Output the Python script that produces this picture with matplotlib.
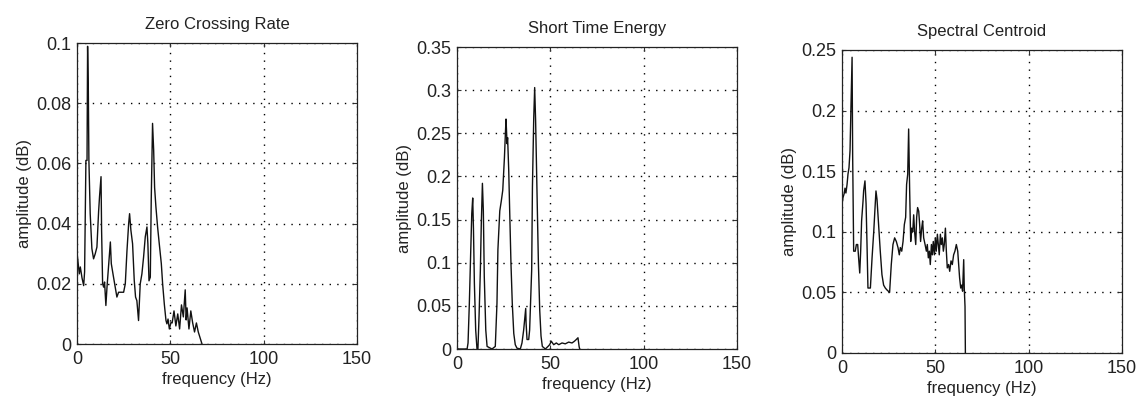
"""Three feature spectra (ZCR, short time energy, spectral centroid)."""

import matplotlib

matplotlib.use("Agg")
import matplotlib.pyplot as plt

plt.rcParams["font.family"] = ["Liberation Sans", "DejaVu Sans"]

# Zero crossing rate spectrum
zcr_freq = [0, 1.25, 1.8, 2.7, 3.6, 4.1, 4.8, 5.4, 5.7, 6.1, 6.4, 7.1, 8.0, 8.9,
            9.8, 10.7, 11.6, 12.1, 12.9, 13.2, 13.75, 14.3, 14.8, 15.5, 16.1,
            17.9, 18.4, 19.3, 20.2, 21.4, 22.3, 23.2, 25.0, 25.9, 26.8, 27.7,
            28.2, 28.9, 29.8, 30.7, 31.4, 32.1, 33.0, 33.9, 34.8, 35.7, 36.6,
            37.5, 38.0, 38.6, 39.3, 39.8, 40.5, 41.1, 41.6, 42.3, 43.2, 44.1,
            45.2, 45.9, 46.8, 47.7, 48.2, 48.8, 49.5, 50.4, 51.0, 52.0, 53.0,
            54.0, 55.0, 56.0, 57.0, 58.0, 58.5, 59.0, 60.0, 61.0, 62.0, 63.0,
            64.0, 65.0, 66.0, 67.0]
zcr_amp = [0.0306, 0.0233, 0.0256, 0.022, 0.0194, 0.024, 0.061, 0.061, 0.0989,
           0.084, 0.061, 0.0433, 0.0317, 0.0283, 0.030, 0.0322, 0.044, 0.049,
           0.0556, 0.0378, 0.020, 0.0189, 0.0206, 0.0128, 0.0189, 0.0339,
           0.0267, 0.0233, 0.020, 0.0156, 0.0172, 0.0172, 0.0172, 0.020, 0.031,
           0.040, 0.0433, 0.0378, 0.0333, 0.0211, 0.0156, 0.0144, 0.0078, 0.020,
           0.0233, 0.0289, 0.0356, 0.0389, 0.0333, 0.021, 0.0222, 0.048, 0.0733,
           0.0644, 0.052, 0.0456, 0.0389, 0.0333, 0.0267, 0.020, 0.0133, 0.0078,
           0.0067, 0.0083, 0.005, 0.0072, 0.007, 0.011, 0.006, 0.010, 0.005,
           0.013, 0.009, 0.018, 0.008, 0.012, 0.005, 0.011, 0.007, 0.004, 0.007,
           0.004, 0.002, 0.0]

# Short time energy spectrum
ste_freq = [0, 5.4, 5.9, 6.6, 7.3, 7.9, 8.4, 8.8, 9.3, 10.0, 10.7, 11.2, 11.8,
            12.5, 13.0, 13.6, 14.1, 14.6, 15.4, 16.1, 18.75, 20.5, 21.4, 21.9,
            22.9, 23.75, 24.5, 25.4, 25.9, 26.25, 26.8, 27.1, 27.7, 28.2, 28.9,
            29.6, 30.4, 31.2, 32.1, 33.9, 34.8, 35.7, 36.8, 37.0, 37.5, 38.4,
            38.9, 40.0, 40.4, 41.1, 41.6, 42.1, 42.9, 43.6, 44.3, 45.0, 45.7,
            47.3, 48.75, 49.6, 50.5, 51.8, 53.2, 54.5, 56.25, 58.0, 59.8, 61.6,
            62.9, 63.9, 64.8, 65.4, 65.7]
ste_amp = [0.0, 0.0, 0.007, 0.053, 0.11, 0.157, 0.175, 0.14, 0.076, 0.022, 0.0,
           0.0, 0.038, 0.091, 0.145, 0.192, 0.16, 0.084, 0.022, 0.003, 0.0,
           0.003, 0.053, 0.115, 0.16, 0.172, 0.184, 0.222, 0.249, 0.2665, 0.238,
           0.245, 0.207, 0.161, 0.099, 0.053, 0.018, 0.005, 0.001, 0.0, 0.007,
           0.022, 0.047, 0.030, 0.011, 0.011, 0.022, 0.092, 0.188, 0.268, 0.303,
           0.265, 0.176, 0.099, 0.045, 0.015, 0.003, 0.0, 0.003, 0.005, 0.009,
           0.005, 0.007, 0.005, 0.007, 0.006, 0.008, 0.007, 0.009, 0.011, 0.013,
           0.003, 0.0]

# Spectral centroid spectrum
sc_freq = [0, 0.5, 1.25, 1.6, 2.1, 2.7, 3.2, 3.75, 4.3, 4.8, 5.4, 5.7, 6.25,
           7.1, 7.7, 8.4, 8.9, 9.5, 10.0, 10.5, 11.25, 11.6, 12.3, 12.9, 13.4,
           13.9, 15.2, 16.1, 17.0, 17.7, 18.2, 18.75, 19.6, 20.5, 21.4, 22.3,
           23.2, 24.1, 25.5, 26.4, 27.3, 28.2, 29.1, 30.0, 30.7, 31.25, 32.0,
           32.7, 33.4, 34.1, 34.6, 35.2, 35.7, 36.25, 36.8, 37.3, 37.9, 38.4,
           38.9, 39.5, 40.0, 40.5, 41.1, 41.6, 42.1, 42.7, 43.2, 43.75, 44.5,
           45.2, 45.7, 46.25, 46.8, 47.3, 47.9, 48.4, 48.9, 49.5, 50.0, 50.5,
           51.1, 51.6, 52.1, 52.7, 53.2, 53.75, 54.3, 54.8, 55.4, 55.9, 56.4,
           57.1, 57.7, 58.4, 59.1, 59.8, 60.5, 61.25, 62.0, 62.5, 63.0, 63.6,
           64.1, 64.6, 65.2, 65.5, 65.9, 66.1]
sc_amp = [0.1227, 0.128, 0.132, 0.136, 0.132, 0.139, 0.1475, 0.153, 0.167,
          0.203, 0.244, 0.164, 0.084, 0.084, 0.0895, 0.0895, 0.0785, 0.066,
          0.084, 0.109, 0.125, 0.134, 0.142, 0.123, 0.0895, 0.0536, 0.0536,
          0.0785, 0.100, 0.120, 0.1337, 0.1268, 0.106, 0.084, 0.0646, 0.056,
          0.0536, 0.052, 0.050, 0.073, 0.0895, 0.095, 0.092, 0.087, 0.081,
          0.087, 0.084, 0.092, 0.106, 0.112, 0.139, 0.1475, 0.1848, 0.134, 0.092,
          0.103, 0.100, 0.114, 0.100, 0.0895, 0.112, 0.120, 0.117, 0.106, 0.092,
          0.103, 0.109, 0.095, 0.0895, 0.084, 0.0895, 0.0785, 0.084, 0.073,
          0.0895, 0.081, 0.092, 0.081, 0.095, 0.084, 0.098, 0.0895, 0.081, 0.098,
          0.0895, 0.095, 0.084, 0.0895, 0.103, 0.084, 0.0702, 0.073, 0.0674,
          0.076, 0.073, 0.081, 0.084, 0.0895, 0.084, 0.073, 0.062, 0.0536, 0.056,
          0.051, 0.077, 0.0536, 0.0384, 0.0]

PANELS = [
    ("Zero Crossing Rate", zcr_freq, zcr_amp, [0, 0.02, 0.04, 0.06, 0.08, 0.1],
     ["0", "0.02", "0.04", "0.06", "0.08", "0.1"], 0.1,
     [0.0675, 0.1378, 0.2456, 0.7544]),
    ("Short Time Energy", ste_freq, ste_amp,
     [0, 0.05, 0.1, 0.15, 0.2, 0.25, 0.3, 0.35],
     ["0", "0.05", "0.1", "0.15", "0.2", "0.25", "0.3", "0.35"], 0.35,
     [0.4009, 0.1253, 0.2456, 0.7569]),
    ("Spectral Centroid", sc_freq, sc_amp, [0, 0.05, 0.1, 0.15, 0.2, 0.25],
     ["0", "0.05", "0.1", "0.15", "0.2", "0.25"], 0.25,
     [0.7386, 0.1153, 0.2456, 0.7594]),
]

fig = plt.figure(figsize=(11.4, 3.99), dpi=100)
fig.patch.set_facecolor("white")

for title, freq, amp, yticks, ylabels, ymax, rect in PANELS:
    ax = fig.add_axes(rect)
    ax.plot(freq, amp, color="#111111", linewidth=1.0)
    ax.set_xlim(0, 150)
    ax.set_ylim(0, ymax)
    ax.set_xticks([0, 50, 100, 150])
    ax.set_xticklabels(["0", "50", "100", "150"])
    ax.set_yticks(yticks)
    ax.set_yticklabels(ylabels)
    ax.grid(True, color="black", linestyle=(0, (1, 4.5)), linewidth=1.0)
    ax.tick_params(direction="in", length=3, top=True, right=True,
                   labelsize=13, width=0.8, colors="#333333",
                   labelcolor="#222222")
    ax.tick_params(axis="x", pad=5)
    ax.tick_params(axis="y", pad=4)
    for spine in ax.spines.values():
        spine.set_linewidth(0.9)
        spine.set_color("#222222")
    ax.set_title(title, fontsize=12, pad=10, color="#222222")
    ax.set_xlabel("frequency (Hz)", fontsize=12, labelpad=3, color="#222222")
    ax.set_ylabel("amplitude (dB)", fontsize=12, labelpad=3, color="#222222")

fig.savefig("out.png", dpi=100)
